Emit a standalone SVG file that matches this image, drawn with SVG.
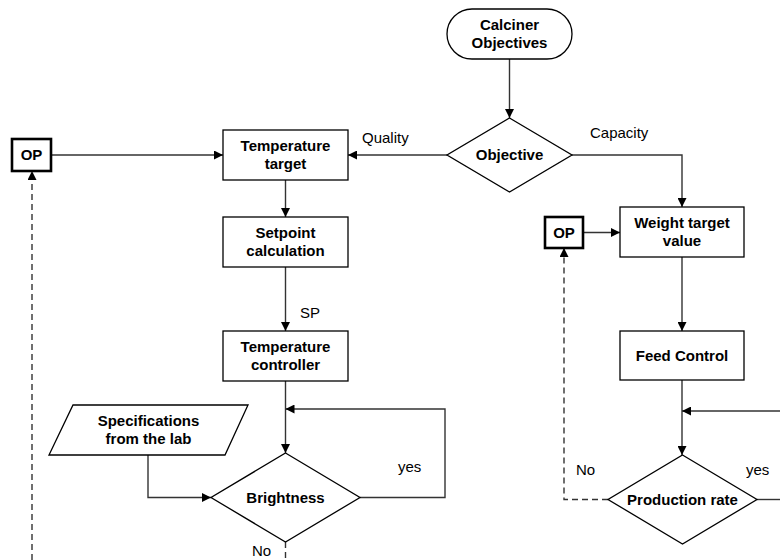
<svg xmlns="http://www.w3.org/2000/svg" width="780" height="560" viewBox="0 0 780 560">
  <defs>
    <marker id="arrow" viewBox="0 0 10 10" refX="10" refY="5" markerWidth="9" markerHeight="9" markerUnits="userSpaceOnUse" orient="auto">
      <path d="M0,0 L10,5 L0,10 Z" fill="#000"/>
    </marker>
    <style>
      .shape { fill: #fff; stroke: #000; stroke-width: 1.3; }
      .op { fill: #fff; stroke: #000; stroke-width: 2.6; }
      .label { font-family: "Liberation Sans", Arial, sans-serif; font-size: 15px; font-weight: bold; fill: #000; text-anchor: middle; }
      .note { font-family: "Liberation Sans", Arial, sans-serif; font-size: 15px; fill: #000; }
      .link { fill: none; stroke: #333; stroke-width: 1.4; }
      .dash { stroke-dasharray: 6 4; }
    </style>
  </defs>
  <rect width="780" height="560" fill="#fff"/>

  <!-- connectors -->
  <g id="connectors">
    <path class="link" d="M509.5,59 V118" marker-end="url(#arrow)"/>
    <path class="link" d="M447,155 H348" marker-end="url(#arrow)"/>
    <path class="link" d="M572,155 H682 V207" marker-end="url(#arrow)"/>
    <path class="link" d="M51,155 H223" marker-end="url(#arrow)"/>
    <path class="link" d="M285.5,180 V217" marker-end="url(#arrow)"/>
    <path class="link" d="M285.5,267 V331" marker-end="url(#arrow)"/>
    <path class="link" d="M285.5,381 V453" marker-end="url(#arrow)"/>
    <path class="link" d="M360,497.5 H445 V409 H285.5" marker-end="url(#arrow)"/>
    <path class="link" d="M148,455 V497.5 H211" marker-end="url(#arrow)"/>
    <path class="link dash" d="M285.5,542 V560"/>
    <path class="link dash" d="M32,560 V171" marker-end="url(#arrow)"/>
    <path class="link" d="M583,232.5 H620" marker-end="url(#arrow)"/>
    <path class="link" d="M682,257 V331" marker-end="url(#arrow)"/>
    <path class="link" d="M682,380 V455" marker-end="url(#arrow)"/>
    <path class="link" d="M780,411 H682" marker-end="url(#arrow)"/>
    <path class="link" d="M757,499.5 H780"/>
    <path class="link dash" d="M608,499.5 H564 V248" marker-end="url(#arrow)"/>

    <text class="note" x="362" y="143">Quality</text>
    <text class="note" x="590" y="138">Capacity</text>
    <text class="note" x="300" y="318">SP</text>
    <text class="note" x="398" y="472">yes</text>
    <text class="note" x="252" y="556">No</text>
    <text class="note" x="576" y="475">No</text>
    <text class="note" x="746" y="475">yes</text>
  </g>

  <!-- nodes -->
  <g id="calciner-objectives">
    <rect class="shape" x="447" y="9" width="125" height="50" rx="25"/>
    <text class="label" x="509.5" y="30">Calciner</text>
    <text class="label" x="509.5" y="48">Objectives</text>
  </g>
  <g id="objective">
    <polygon class="shape" points="509.5,118 572,155 509.5,192 447,155"/>
    <text class="label" x="509.5" y="160">Objective</text>
  </g>
  <g id="op-left">
    <rect class="op" x="12" y="139" width="39" height="32"/>
    <text class="label" x="31.5" y="160">OP</text>
  </g>
  <g id="temperature-target">
    <rect class="shape" x="223" y="130" width="125" height="50"/>
    <text class="label" x="285.5" y="151">Temperature</text>
    <text class="label" x="285.5" y="169">target</text>
  </g>
  <g id="setpoint-calculation">
    <rect class="shape" x="223" y="217" width="125" height="50"/>
    <text class="label" x="285.5" y="238">Setpoint</text>
    <text class="label" x="285.5" y="256">calculation</text>
  </g>
  <g id="temperature-controller">
    <rect class="shape" x="223" y="331" width="125" height="50"/>
    <text class="label" x="285.5" y="352">Temperature</text>
    <text class="label" x="285.5" y="370">controller</text>
  </g>
  <g id="lab-specifications">
    <polygon class="shape" points="73,405 248,405 225,455 49,455"/>
    <text class="label" x="148.5" y="426">Specifications</text>
    <text class="label" x="148.5" y="444">from the lab</text>
  </g>
  <g id="brightness">
    <polygon class="shape" points="285.5,453 360,497.5 285.5,542 211,497.5"/>
    <text class="label" x="285.5" y="503">Brightness</text>
  </g>
  <g id="op-right">
    <rect class="op" x="545" y="217" width="38" height="31"/>
    <text class="label" x="564" y="238">OP</text>
  </g>
  <g id="weight-target">
    <rect class="shape" x="620" y="207" width="124" height="50"/>
    <text class="label" x="682" y="228">Weight target</text>
    <text class="label" x="682" y="246">value</text>
  </g>
  <g id="feed-control">
    <rect class="shape" x="620" y="331" width="124" height="49"/>
    <text class="label" x="682" y="361">Feed Control</text>
  </g>
  <g id="production-rate">
    <polygon class="shape" points="682.5,455 757,499.5 682.5,544 608,499.5"/>
    <text class="label" x="682.5" y="505">Production rate</text>
  </g>
</svg>
